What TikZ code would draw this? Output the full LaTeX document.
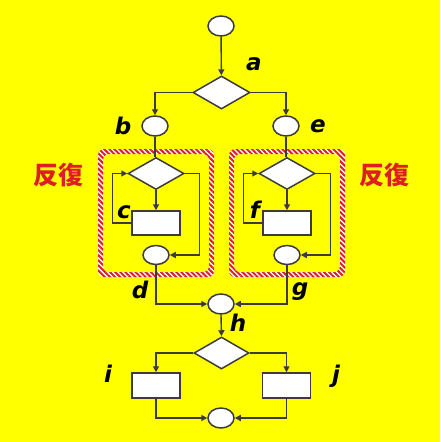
\documentclass[tikz,border=0pt]{standalone}
\usepackage{fontspec}
\setsansfont{DejaVu Sans}
\newfontfamily\cjkfont{Noto Sans CJK JP}
\usetikzlibrary{shapes.geometric,arrows.meta,patterns.meta}
\definecolor{bgyellow}{RGB}{255,255,0}
\definecolor{linegray}{RGB}{60,60,60}
\definecolor{hanred}{RGB}{222,30,35}
\tikzset{
  shp/.style={draw=linegray, fill=white, line width=1.5pt, inner sep=0pt},
  oval/.style={shp, ellipse, minimum width=26pt, minimum height=20pt},
  decide/.style={shp, diamond, minimum width=56pt, minimum height=32pt},
  proc/.style={shp, rectangle, minimum width=48pt, minimum height=24pt},
  conn/.style={draw=linegray, line width=1.4pt},
  arr/.style={conn, -{Triangle[length=6pt,width=6pt]}},
  lbl/.style={font=\fontsize{23}{23}\selectfont\sffamily\bfseries\itshape, text=black, inner sep=0pt},
  hanlbl/.style={font=\fontsize{25}{25}\selectfont\cjkfont\bfseries, text=hanred, inner sep=0pt},
}
\newcommand{\stripering}[4]{%
  \fill[white, even odd rule, rounded corners=6pt] (#1,#2) rectangle (#3,#4) ({#1+5},{#2+5}) rectangle ({#3-5},{#4-5});
  \fill[pattern={Lines[angle=-45,distance=3.6pt,line width=2pt]}, pattern color=hanred, even odd rule, rounded corners=6pt] (#1,#2) rectangle (#3,#4) ({#1+5},{#2+5}) rectangle ({#3-5},{#4-5});
}
\begin{document}
\begin{tikzpicture}[x=1pt,y=-1pt]
\fill[bgyellow] (0,0) rectangle (440,442);
\useasboundingbox (0,0) rectangle (440,442);

% striped frames
\stripering{98}{149}{214}{277}
\stripering{229}{149}{345}{277}

% nodes
\node[oval] (s) at (221,26) {};
\node[decide, minimum width=57pt, minimum height=33pt] (a) at (221.5,92.5) {};
\node[oval] (b) at (155,126) {};
\node[oval] (e) at (286,126) {};

\node[decide] (dL) at (156,173.5) {};
\node[proc] (cL) at (156,223) {};
\node[oval, minimum height=19pt] (eL) at (156,255) {};

\node[decide] (dR) at (287,173.5) {};
\node[proc] (cR) at (287,223) {};
\node[oval, minimum height=19pt] (eR) at (287,255) {};

\node[oval] (m) at (221,304) {};
\node[decide, minimum width=55pt] (h) at (221.5,353) {};
\node[proc, minimum height=25pt] (pi) at (156,385.5) {};
\node[proc, minimum height=25pt] (pj) at (286.5,385.5) {};
\node[oval] (z) at (221,418) {};

% connectors
\draw[arr] (s) -- (a);
\draw[arr] (a.west) -| (b.north);
\draw[arr] (a.east) -| (e.north);
\draw[conn] (b.south) -- (b.south |- dL.north);
\draw[conn] (e.south) -- (e.south |- dR.north);

\draw[arr] (dL.south) -- (dL.south |- cL.north);
\draw[arr] (cL.west) -- ++(-19,0) |- (dL.west);
\draw[arr] (dL.east) -- ++(15,0) |- (eL.east);

\draw[arr] (dR.south) -- (dR.south |- cR.north);
\draw[arr] (cR.west) -- ++(-19,0) |- (dR.west);
\draw[arr] (dR.east) -- ++(15,0) |- (eR.east);

\draw[arr] (eL.south) |- (m.west);
\draw[arr] (eR.south) |- (m.east);
\draw[arr] (m.south) -- (h.north);
\draw[arr] (h.west) -| (pi.north);
\draw[arr] (h.east) -| (pj.north);
\draw[arr] (pi.south) |- (z.west);
\draw[arr] (pj.south) |- (z.east);

% labels
\node[lbl] (la) at (254,64) {a};
\node[lbl] (lb) at (123,126) {b};
\node[lbl] (le) at (318,126) {e};
\node[lbl] (lc) at (124,212) {c};
\node[lbl] (lf) at (255,210) {f};
\node[lbl] (ld) at (140,290) {d};
\node[lbl] (lg) at (300,292) {g};
\node[lbl] (lh) at (238,323) {h};
\node[lbl] (li) at (108,374) {i};
\node[lbl] (lj) at (336,376) {j};
\node[hanlbl] (rl) at (59,175) {反復};
\node[hanlbl] (rr) at (384,175) {反復};
\end{tikzpicture}
\end{document}
